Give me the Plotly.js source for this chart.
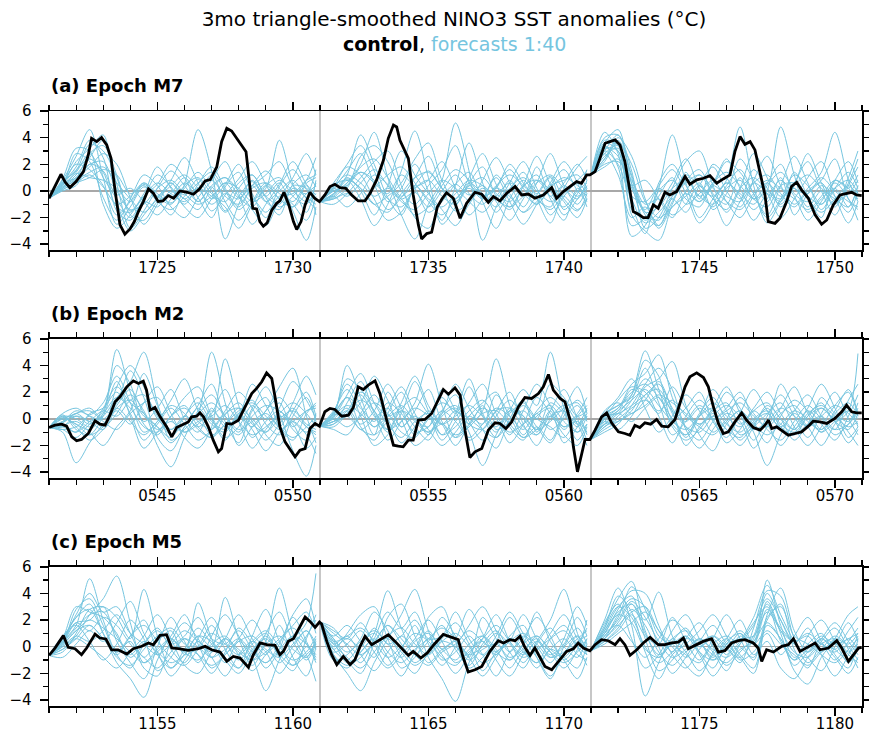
<!DOCTYPE html>
<html>
<head>
<meta charset="utf-8">
<script src="https://cdn.plot.ly/plotly-3.0.1.min.js"></script>
<style>html,body{margin:0;padding:0;background:#fff;}#chart{width:869px;height:736px;}</style>
</head>
<body>
<div id="chart"></div>
<script>
// ---------------- data ----------------
const panelLabels = ['(a) Epoch M7', '(b) Epoch M2', '(c) Epoch M5'];
const xRangeA = [1721, 1751];
const xRangeB = [541, 571];
const xRangeC = [1151, 1181];
const segStartsA = [1721, 1731, 1741];
const segStartsB = [541, 551, 561];
const segStartsC = [1151, 1161, 1171];
// forecast sample times, years after each start
const fcOffsets = [0,0.5,1,1.5,2,2.5,3,3.5,4,4.5,5,5.5,6,6.5,7,7.5,8,8.5,9,9.5,9.85];

// control run [year, anomaly]
const controlA = [[1721.0,-0.55],[1721.2,0.3],[1721.44,1.25],[1721.6,0.65],[1721.77,0.25],[1722.0,0.7],[1722.27,1.45],[1722.45,2.7],[1722.57,3.95],[1722.76,3.7],[1722.94,4.0],[1723.13,3.45],[1723.29,2.45],[1723.44,0],[1723.62,-2.55],[1723.8,-3.25],[1723.99,-2.85],[1724.15,-2.3],[1724.3,-1.55],[1724.48,-0.8],[1724.67,0.15],[1724.85,-0.17],[1725.03,-0.8],[1725.2,-0.75],[1725.4,-0.35],[1725.6,-0.55],[1725.83,0],[1726.1,-0.1],[1726.33,-0.25],[1726.55,0.15],[1726.76,0.75],[1726.95,0.85],[1727.19,1.8],[1727.37,3.7],[1727.56,4.7],[1727.74,4.5],[1727.92,3.95],[1728.1,3.45],[1728.27,2.95],[1728.42,0.2],[1728.52,-1.3],[1728.66,-1.35],[1728.78,-2.3],[1728.91,-2.65],[1729.05,-2.4],[1729.22,-1.45],[1729.4,-0.93],[1729.52,-0.75],[1729.67,-0.1],[1729.85,-1.05],[1730.02,-2.3],[1730.14,-2.9],[1730.3,-2.3],[1730.45,-1.05],[1730.63,-0.1],[1730.8,-0.55],[1730.98,-0.8],
[1731.18,-0.3],[1731.37,0.33],[1731.55,0.5],[1731.74,0.25],[1731.95,0.2],[1732.17,-0.3],[1732.41,-0.75],[1732.66,-0.75],[1732.85,-0.17],[1733.09,0.83],[1733.34,2.3],[1733.52,3.95],[1733.71,4.95],[1733.83,4.8],[1733.95,3.8],[1734.08,3.2],[1734.26,2.45],[1734.44,-0.3],[1734.63,-2.55],[1734.75,-3.6],[1734.94,-3.2],[1735.12,-3.1],[1735.33,-1.2],[1735.5,-0.6],[1735.67,-0.13],[1735.92,-0.55],[1736.17,-2.05],[1736.41,-0.93],[1736.72,-0.1],[1736.97,-0.25],[1737.21,-0.85],[1737.4,-0.43],[1737.64,-0.75],[1737.89,-0.17],[1738.2,0.33],[1738.44,-0.3],[1738.69,-0.23],[1738.93,-0.55],[1739.24,-0.3],[1739.55,0.25],[1739.73,-0.55],[1739.98,-0.05],[1740.22,0.33],[1740.47,0.7],[1740.65,0.58],[1740.84,1.2],[1740.96,1.2],
[1741.15,1.45],[1741.33,2.45],[1741.52,3.58],[1741.7,3.7],[1741.89,3.83],[1742.07,3.45],[1742.25,2.2],[1742.44,-0.05],[1742.56,-1.55],[1742.75,-1.75],[1742.93,-2.0],[1743.11,-2.0],[1743.3,-1.05],[1743.48,-1.3],[1743.73,-0.1],[1743.91,-0.3],[1744.16,-0.05],[1744.47,1.08],[1744.65,0.5],[1744.9,0.83],[1745.15,0.95],[1745.39,1.15],[1745.64,0.58],[1745.88,0.9],[1746.13,1.2],[1746.31,2.95],[1746.5,4.08],[1746.68,3.5],[1746.87,3.7],[1747.05,3.08],[1747.24,1.45],[1747.42,-0.3],[1747.54,-2.3],[1747.79,-2.43],[1747.97,-2.05],[1748.22,-0.8],[1748.4,0.33],[1748.59,0.65],[1748.77,0.08],[1749.02,-0.55],[1749.27,-1.8],[1749.51,-2.5],[1749.7,-2.18],[1749.94,-1.05],[1750.19,-0.3],[1750.43,-0.17],[1750.62,-0.1],[1750.8,-0.3],[1750.99,-0.35]];

const controlB = [[541.0,-0.65],[541.22,-0.48],[541.47,-0.4],[541.65,-0.55],[541.84,-1.35],[542.02,-1.65],[542.2,-1.55],[542.45,-1.1],[542.7,-0.15],[542.88,-0.4],[543.07,-0.48],[543.25,0.28],[543.44,1.28],[543.62,1.65],[543.87,2.4],[544.11,2.85],[544.3,2.65],[544.48,2.83],[544.6,2.15],[544.73,0.65],[544.91,0.85],[545.1,0.15],[545.34,-0.6],[545.53,-1.35],[545.71,-0.65],[545.96,-0.4],[546.14,-0.23],[546.26,0.15],[546.45,0.2],[546.57,0.45],[546.7,0.15],[546.88,-0.6],[547.06,-1.6],[547.25,-2.48],[547.37,-2.23],[547.56,-0.35],[547.74,-0.4],[547.99,-0.1],[548.23,0.9],[548.48,1.9],[548.66,2.28],[548.85,2.78],[549.03,3.45],[549.22,3.03],[549.34,1.65],[549.52,-0.6],[549.71,-1.73],[549.89,-2.23],[550.08,-2.85],[550.26,-2.35],[550.45,-2.23],[550.63,-0.73],[550.82,-0.35],[550.98,-0.55],
[551.18,0.53],[551.37,0.78],[551.55,0.7],[551.8,0.2],[552.05,0.28],[552.23,0.85],[552.41,2.4],[552.6,2.2],[552.78,2.53],[553.03,2.85],[553.21,1.9],[553.46,-0.1],[553.71,-1.98],[553.89,-2.05],[554.07,-2.1],[554.26,-1.6],[554.44,-1.6],[554.63,-0.1],[554.87,-0.05],[555.12,0.4],[555.3,1.2],[555.55,2.2],[555.74,1.85],[555.98,2.33],[556.17,1.78],[556.35,-0.85],[556.53,-2.9],[556.72,-2.48],[556.97,-2.23],[557.21,-0.85],[557.46,-0.3],[557.64,-0.35],[557.86,-0.73],[558.07,-0.23],[558.32,0.9],[558.56,1.6],[558.81,1.53],[559.06,1.9],[559.24,2.4],[559.43,3.33],[559.61,2.15],[559.86,1.53],[560.04,1.28],[560.23,-0.1],[560.35,-2.1],[560.5,-3.98],[560.66,-2.6],[560.78,-1.55],[560.96,-1.55],
[561.15,-0.85],[561.39,0.15],[561.58,0.45],[561.76,-0.3],[562.01,-0.98],[562.25,-1.1],[562.44,-1.23],[562.62,-0.48],[562.8,-0.65],[562.99,-0.3],[563.2,-0.4],[563.42,-0.05],[563.61,-0.55],[563.85,-0.6],[564.1,-0.05],[564.28,1.15],[564.47,2.4],[564.65,3.15],[564.9,3.45],[565.15,3.1],[565.33,2.4],[565.51,0.95],[565.7,-0.35],[565.88,-1.1],[566.07,-0.98],[566.31,-0.23],[566.56,0.45],[566.74,-0.1],[566.99,-0.65],[567.24,-0.85],[567.42,-0.48],[567.55,-0.1],[567.67,-0.73],[567.85,-0.6],[568.04,-0.85],[568.28,-1.23],[568.53,-1.1],[568.77,-0.98],[569.02,-0.55],[569.2,-0.18],[569.45,-0.23],[569.7,-0.35],[570.0,0.03],[570.25,0.53],[570.43,1.03],[570.62,0.53],[570.8,0.45],[570.99,0.45]];

const controlC = [[1151.0,-0.65],[1151.22,-0.1],[1151.53,0.83],[1151.71,-0.05],[1151.96,-0.15],[1152.2,-0.6],[1152.39,-0.1],[1152.7,0.95],[1152.88,0.65],[1153.1,0.58],[1153.31,-0.23],[1153.55,-0.23],[1153.87,-0.55],[1154.11,-0.15],[1154.42,0.03],[1154.67,0.28],[1154.85,0.15],[1155.1,0.85],[1155.34,0.9],[1155.53,-0.1],[1155.78,-0.15],[1156.14,-0.28],[1156.51,-0.15],[1156.76,0.03],[1157.0,-0.23],[1157.31,-0.4],[1157.56,-1.1],[1157.8,-0.73],[1158.05,-0.85],[1158.36,-1.55],[1158.54,-0.6],[1158.79,0.28],[1159.03,0.15],[1159.34,0.1],[1159.52,-0.6],[1159.65,-0.35],[1159.83,0.4],[1160.02,0.6],[1160.2,1.28],[1160.45,2.23],[1160.63,1.9],[1160.82,1.45],[1160.98,1.85],
[1161.06,1.7],[1161.25,0.4],[1161.43,-0.6],[1161.62,-1.35],[1161.86,-0.73],[1162.11,-1.35],[1162.29,-0.98],[1162.48,0.03],[1162.66,0.78],[1162.91,0.15],[1163.21,0.53],[1163.52,0.9],[1163.77,0.4],[1164.01,-0.1],[1164.26,-0.65],[1164.44,-0.35],[1164.72,-0.85],[1164.97,-0.45],[1165.2,0.15],[1165.55,0.93],[1165.8,0.75],[1166.1,0.53],[1166.29,-0.85],[1166.47,-1.9],[1166.72,-1.73],[1166.97,-1.48],[1167.27,-0.35],[1167.58,0.45],[1167.77,0.28],[1168.01,0.53],[1168.2,0.45],[1168.38,0.78],[1168.56,-0.05],[1168.75,-0.65],[1168.93,-0.1],[1169.12,-0.85],[1169.3,-1.48],[1169.55,-1.73],[1169.79,-1.1],[1170.1,-0.35],[1170.35,-0.15],[1170.53,0.28],[1170.72,-0.1],[1170.96,-0.3],
[1171.15,0.15],[1171.39,0.53],[1171.64,0.45],[1171.89,0.15],[1172.07,0.6],[1172.25,0.15],[1172.44,-0.65],[1172.69,-0.23],[1172.93,0.28],[1173.18,0.7],[1173.48,0.15],[1173.73,0.15],[1173.98,0.28],[1174.22,0.35],[1174.41,0.65],[1174.59,-0.15],[1174.84,0.1],[1175.14,0.4],[1175.45,0.6],[1175.7,-0.4],[1175.94,-0.3],[1176.19,0.28],[1176.44,0.45],[1176.68,0.53],[1176.99,0.28],[1177.17,-0.1],[1177.3,-1.1],[1177.48,-0.23],[1177.73,-0.4],[1178.04,0.03],[1178.28,0.15],[1178.47,0.6],[1178.71,-0.35],[1179.02,0.03],[1179.27,0.28],[1179.45,-0.23],[1179.76,-0.1],[1180.07,0.45],[1180.25,-0.1],[1180.5,-1.1],[1180.68,-0.6],[1180.87,-0.1],[1180.99,-0.05]];

// forecast members (values at fcOffsets after each start)
const fcA1 = [
[-0.55,0.6,1.8,3.8,2.5,-1.5,-2.2,-0.5,1.2,0.3,-1.0,0.5,1.8,0.2,-1.2,0.4,1.5,0.2,-0.8,0.6,1.0],
[-0.55,0.3,1.2,2.5,3.8,0.5,-2.8,-1.5,0.2,1.5,0.4,-0.8,0.3,-1.5,0.2,1.2,-0.5,-1.8,0.5,1.2,0.3],
[-0.55,0.8,2.6,4.6,1.0,-2.5,-1.2,0.3,-0.6,-1.8,0.5,4.6,1.5,-3.6,-1.0,0.8,-0.4,0.6,-1.5,-3.7,-1.2],
[-0.55,0.2,0.9,1.8,2.8,2.0,-0.5,-2.5,-1.0,0.6,-0.3,0.9,-0.6,0.5,2.0,-0.2,-2.0,0.3,1.6,0.1,-0.6],
[-0.55,0.5,2.2,3.2,4.2,-0.8,-3.0,-1.8,-0.5,0.8,2.5,0.6,-1.5,-0.3,0.9,2.2,0.5,-1.2,-0.4,0.8,2.5],
[-0.55,0.1,0.6,1.2,0.3,-1.0,-0.4,0.6,-0.2,-0.9,0.2,1.4,0.0,-1.6,-0.4,0.7,-0.8,-1.4,0.2,-0.5,-1.0],
[-0.55,0.7,1.5,3.5,3.0,1.0,-1.8,-2.2,-0.8,-0.2,1.0,-0.5,-2.0,0.3,1.4,-0.6,0.2,3.8,0.5,-1.6,0.8],
[-0.55,0.4,2.8,2.2,-0.5,-2.2,-0.6,1.2,0.4,-1.2,-2.0,-0.5,0.8,2.2,-0.2,-2.5,-1.0,0.5,2.2,0.5,-0.3],
[-0.55,0.0,0.4,2.0,1.5,-0.3,0.2,-0.8,-1.8,-0.6,0.6,0.0,1.2,-0.8,-2.2,-0.8,0.6,-0.2,-1.0,-2.2,-0.4],
[-0.55,0.6,1.0,2.8,3.4,1.2,-1.5,-0.2,1.8,0.2,-1.2,-2.0,-0.6,0.6,-0.5,0.4,1.2,2.2,0.4,-0.2,1.6],
[-0.55,0.9,3.2,3.0,-1.0,-2.8,-1.8,-0.4,0.5,2.0,1.0,-0.8,0.4,1.0,0.0,-1.4,-2.6,-0.6,1.0,2.8,1.2],
[-0.55,0.2,1.3,1.0,0.8,0.2,-0.8,0.5,-0.4,0.6,-0.6,0.2,-0.4,-1.2,-2.8,-1.0,0.4,-0.6,-1.2,0.4,-1.8],
[-0.55,0.5,1.6,2.4,1.4,-1.2,-1.6,-0.4,0.6,-0.2,-0.8,0.2,0.8,-0.4,-1.0,0.2,0.6,-0.6,-1.2,-0.2,0.4],
[-0.55,0.3,1.0,2.0,2.2,0.0,-1.4,-1.0,0.2,0.8,-0.2,-1.0,-0.4,0.6,0.2,-0.8,-0.2,0.8,0.0,-0.8,-0.2],
[-0.55,0.6,2.0,1.6,0.4,-1.8,-0.8,0.6,-0.4,-1.0,0.4,1.0,-0.2,-0.8,0.6,1.2,-0.4,-1.0,0.4,0.2,-0.6],
[-0.55,0.2,0.8,1.4,1.8,0.6,-0.6,-1.6,-0.6,0.4,1.2,0.2,-1.0,-0.2,-0.6,0.4,-0.8,0.0,0.8,-0.6,-1.4],
[-0.55,0.4,1.4,2.8,1.0,-0.6,-2.0,-0.8,-1.2,0.0,-0.6,-1.4,0.2,1.0,-0.4,-1.2,0.4,1.0,-0.4,-1.0,0.6],
[-0.55,0.1,0.6,1.0,1.6,1.2,-0.2,0.4,-0.8,-1.4,-0.4,0.6,1.4,0.0,-1.4,-0.6,-1.6,-0.4,-0.2,0.8,1.2]];
const fcA2 = [
[-0.8,-0.2,1.2,4.2,2.0,-0.5,-1.8,0.4,1.5,0.2,-0.6,1.0,2.8,0.5,-1.2,0.3,1.2,-0.4,0.6,2.0,0.8],
[-0.8,0.4,0.8,-0.6,-2.6,-1.0,1.5,4.5,1.0,-2.5,-1.2,0.4,-0.5,1.2,-0.2,-1.6,-0.3,1.1,-0.6,-1.5,-0.2],
[-0.8,-0.5,0.6,2.0,4.4,1.0,-1.8,-3.6,-1.0,0.8,5.1,1.5,-3.7,-1.2,0.6,2.2,0.2,-1.8,-0.4,0.8,1.5],
[-0.8,0.2,1.5,2.8,0.5,-1.4,-0.5,1.0,2.6,0.2,-1.5,-0.8,0.8,2.5,0.6,-1.2,0.6,2.8,0.4,-1.0,0.2],
[-0.8,-1.0,-0.2,1.0,2.2,3.0,0.4,-2.0,-2.8,-0.5,0.5,-0.3,0.4,-0.8,-2.2,-0.6,0.8,0.0,-1.8,-0.6,0.4],
[-0.8,0.6,2.0,3.4,1.5,-0.8,0.2,2.0,0.0,-2.2,0.4,3.6,0.6,-1.6,0.0,1.4,-0.6,-2.4,0.2,1.8,2.6],
[-0.8,-0.4,-1.2,-0.2,1.2,0.5,-0.6,-0.1,-1.2,0.0,1.2,-0.2,-1.0,0.3,1.6,0.2,-1.0,0.4,1.6,0.0,-0.8],
[-0.8,0.1,0.9,0.2,-1.0,-0.4,0.6,2.4,3.6,0.8,-0.8,0.6,1.8,-0.4,-1.4,0.4,2.6,0.5,-0.8,-2.0,-0.6],
[-0.8,0.3,1.8,1.2,-0.6,-2.2,-1.6,0.2,0.8,2.2,0.2,-1.8,-0.6,1.0,-0.8,-2.5,-1.0,0.6,2.2,0.6,-1.2],
[-0.8,-0.6,0.2,2.6,3.4,2.2,0.0,-1.0,0.4,1.6,3.4,0.6,-0.4,0.2,2.0,0.6,-0.6,-1.2,0.4,-0.4,0.3],
[-0.8,0.0,0.4,1.4,0.6,-0.2,1.2,0.2,-1.6,-0.8,0.5,1.4,-0.8,-2.8,-0.6,0.8,-0.2,1.0,-1.4,-0.2,1.6],
[-0.8,-0.3,1.0,0.0,-1.8,0.4,3.0,1.2,-0.2,-1.4,-2.6,-1.0,0.2,-0.6,0.8,-0.4,1.8,-0.6,-2.2,0.2,-0.6],
[-0.8,-0.2,0.6,1.4,0.8,-0.6,-1.2,0.2,0.8,-0.4,-1.0,0.4,1.0,-0.2,-0.8,0.4,0.8,-0.4,-1.2,0.0,0.6],
[-0.8,0.2,-0.4,0.6,1.6,0.4,-0.8,-1.4,-0.2,0.8,0.2,-0.8,-1.6,-0.4,0.6,-0.2,-1.0,0.2,1.0,0.4,-0.4],
[-0.8,-0.4,0.8,0.2,-1.0,-1.6,-0.2,1.0,1.4,0.2,-0.6,0.6,-0.2,-1.2,0.2,1.0,0.0,-0.8,-0.4,-1.4,-0.6],
[-0.8,0.0,0.4,1.8,2.4,1.0,-0.4,0.4,-0.6,-1.2,-0.2,0.8,0.4,-0.6,-1.2,-0.4,0.6,1.2,0.2,-0.6,0.8],
[-0.8,-0.6,-0.2,-0.8,0.2,1.2,1.8,0.6,-0.8,-1.8,-0.6,0.2,-0.6,0.4,1.2,0.4,-0.6,-1.4,-0.2,0.6,-0.2],
[-0.8,0.3,1.2,0.6,-0.4,0.2,-0.6,-1.8,-1.2,0.4,1.6,0.8,-0.4,0.2,-0.4,-1.6,-0.8,0.4,0.8,1.2,0.2]];
const fcA3 = [
[1.2,3.6,4.6,0.5,-2.2,-1.0,0.6,2.4,0.2,-1.2,0.4,1.6,-0.2,-2.0,-0.6,1.2,0.4,-1.0,0.8,2.2,0.6],
[1.2,2.6,3.2,-1.8,-3.0,-3.7,-1.0,1.0,-0.4,0.6,2.4,0.2,-1.4,0.0,4.8,1.2,-1.6,-0.6,0.2,-1.2,0.4],
[1.2,4.4,2.8,-3.4,-2.6,0.2,4.2,0.6,-2.0,-0.6,0.8,4.8,0.4,-2.4,-0.8,0.6,2.2,0.0,-1.8,0.4,1.8],
[1.2,2.2,3.8,1.2,-1.6,-2.2,-0.6,-1.6,0.4,1.8,0.0,-1.2,0.8,2.6,0.4,-1.0,0.2,1.4,4.4,0.8,-0.8],
[1.2,3.0,2.0,-0.4,-0.8,0.4,1.6,-0.2,-2.4,-1.0,0.6,-0.4,-2.2,-0.6,0.8,-0.4,-2.2,-0.8,0.6,-0.6,-2.2],
[1.2,4.0,4.2,1.5,-2.8,-2.0,0.2,2.2,3.0,0.4,-1.6,0.2,2.8,1.0,-1.2,0.4,2.8,0.6,-1.2,1.0,3.0],
[1.2,1.8,2.4,0.4,0.8,-0.6,-2.0,0.0,1.2,-0.2,-1.0,1.0,-0.6,0.6,2.0,-0.2,-0.8,0.4,-0.4,-1.6,0.0],
[1.2,3.2,3.0,-1.0,-3.2,0.6,2.0,0.4,-0.8,0.4,2.2,1.4,-0.2,-1.8,0.4,2.6,0.6,-1.4,0.2,1.4,0.2],
[1.2,2.8,1.2,-2.0,-1.2,-2.6,-0.8,0.8,1.6,-0.4,-2.6,-0.8,0.6,-0.2,-2.0,-0.6,1.0,2.2,-0.4,-2.4,-0.8],
[1.2,3.8,3.4,0.2,-1.4,0.2,-0.6,1.4,-0.6,2.0,1.0,-0.6,1.6,0.2,-0.8,1.4,-0.4,-2.0,0.8,0.2,1.2],
[1.2,2.4,4.0,2.6,-0.6,-2.8,-1.2,-0.4,0.6,-1.4,-0.2,2.4,0.8,-0.8,1.0,-1.8,-0.2,0.8,2.4,-0.6,-1.4],
[1.2,3.4,1.8,-2.6,-2.0,-0.4,1.0,-1.0,-0.2,0.8,-0.8,-2.0,-0.4,0.6,-0.4,0.2,-1.2,0.0,-1.0,0.6,2.4],
[1.2,2.8,3.4,0.6,-1.6,-1.2,0.2,0.8,-0.4,-1.0,0.2,0.8,-0.6,-1.2,0.4,0.6,-0.4,-1.0,0.2,0.8,-0.2],
[1.2,3.2,2.6,-0.6,-2.4,-1.6,-0.4,0.6,1.2,0.2,-0.8,-1.4,-0.2,0.8,0.2,-0.6,-1.4,-0.4,0.8,0.2,-0.6],
[1.2,2.4,3.6,2.0,-0.8,-2.0,-1.2,-0.2,-0.8,0.6,1.4,0.4,-0.6,-0.2,-1.0,0.4,1.2,0.2,-0.6,-1.2,0.4],
[1.2,3.6,3.0,-1.4,-2.0,0.0,0.8,-0.6,-1.2,0.4,-0.4,-0.8,0.6,1.2,-0.2,-1.2,0.0,0.6,-0.8,-0.2,0.8],
[1.2,2.0,2.2,0.8,-1.0,-0.6,-1.8,-1.0,0.4,-0.6,-1.4,0.2,1.0,0.0,-0.6,0.6,-0.6,-1.6,-0.6,0.4,-0.4],
[1.2,3.0,4.2,1.0,-1.8,-2.6,-0.4,1.2,0.4,-0.4,0.6,-0.2,-1.0,0.4,1.4,0.2,-0.2,1.0,0.0,-0.8,-1.2]];

const fcB1 = [
[-0.65,-0.3,0.4,-0.2,0.6,5.2,2.0,-0.4,-1.2,0.2,1.0,-0.6,-1.4,0.3,1.2,-0.2,-1.6,-0.4,0.8,-0.6,-1.0],
[-0.65,-0.8,-1.4,-0.4,0.2,1.6,2.8,5.0,1.2,-1.6,-0.8,0.4,5.0,1.2,-2.0,-0.6,0.6,2.4,3.8,0.2,-1.8],
[-0.65,0.2,-0.6,-1.6,-0.8,0.4,1.8,0.6,-2.0,-3.6,-1.4,0.6,1.8,0.2,-1.0,0.8,2.4,0.4,-2.4,-4.3,-2.0],
[-0.65,-0.2,0.6,0.2,-0.6,2.4,4.0,2.4,0.0,-0.8,0.2,1.6,0.0,-1.6,0.4,1.4,-0.4,-1.2,0.6,2.0,0.2],
[-0.65,-1.0,-3.3,-1.8,-0.4,0.6,-0.4,1.2,2.4,0.4,-1.4,-2.2,-0.6,4.5,1.0,-1.4,-0.2,0.6,-0.8,-1.6,0.4],
[-0.65,0.4,0.8,0.3,1.2,3.2,1.2,-1.0,-0.2,1.4,3.0,0.6,-1.2,-0.4,0.8,0.0,-1.0,0.8,2.8,1.4,0.0],
[-0.65,-0.5,-0.2,-1.0,-2.0,-0.6,0.6,3.4,1.0,-0.8,0.2,-0.6,0.4,2.2,-0.2,-2.2,-0.8,0.2,-0.4,-2.2,-1.4],
[-0.65,0.0,0.4,0.8,0.0,1.2,3.6,1.6,-1.4,-2.4,-0.6,1.0,2.6,-0.2,-1.8,0.6,1.6,-0.6,-1.6,0.4,1.2],
[-0.65,-0.4,-1.0,0.4,0.8,2.0,0.4,-1.6,-0.4,0.8,-0.4,-1.6,-0.8,0.6,2.0,0.8,-1.2,-2.0,0.2,1.6,-0.2],
[-0.65,0.1,-0.4,-0.8,0.4,4.0,2.6,-0.2,0.8,2.2,0.0,-1.0,0.8,-0.6,0.2,2.6,1.0,-0.6,1.2,3.2,1.8],
[-0.65,-0.6,0.2,-0.2,-0.8,0.8,1.4,0.2,-0.6,-1.8,-0.6,0.8,-0.4,-1.0,0.4,-0.8,-2.4,-1.0,-0.2,-1.2,-2.6],
[-0.65,0.3,-0.8,-1.2,0.2,2.8,0.2,-2.2,-1.0,0.2,1.6,2.4,0.2,-1.4,-0.6,1.0,0.0,1.2,-0.6,0.6,0.8],
[-0.65,-0.2,0.2,-0.4,0.4,1.6,0.8,-0.6,-1.0,0.2,0.8,-0.2,-0.8,0.4,0.8,-0.4,-1.0,0.0,0.6,-0.4,-0.8],
[-0.65,-0.6,-1.0,-0.2,0.6,0.2,1.4,1.8,0.2,-1.2,-0.4,0.4,1.2,0.2,-0.8,-0.2,0.4,-0.6,-1.4,-0.6,0.2],
[-0.65,0.0,-0.4,-1.2,-0.6,1.0,2.2,0.4,-0.8,-0.2,-1.0,-0.4,0.6,-0.4,-1.2,0.2,1.0,0.6,-0.2,-1.0,-0.2],
[-0.65,-0.3,0.4,0.6,-0.2,-0.8,0.4,1.2,1.6,0.0,-1.0,-0.2,0.2,1.0,-0.2,-1.2,-0.6,0.4,1.2,0.4,-0.6],
[-0.65,-0.8,-0.6,0.2,-0.4,0.8,-0.2,-1.2,-0.2,1.0,0.4,-0.8,-1.4,-0.4,0.6,1.2,0.2,-0.8,-0.2,0.6,1.0],
[-0.65,0.2,0.0,-0.6,0.8,2.4,1.2,0.4,-0.6,-1.4,0.2,1.2,-0.2,-0.8,0.2,-0.6,0.6,1.6,0.4,-0.6,-1.2]];
const fcB2 = [
[-0.55,0.2,4.0,1.6,-0.6,0.8,2.4,0.4,-1.2,0.6,1.8,-0.2,-1.6,0.2,1.4,0.2,-0.8,1.2,0.4,-1.0,0.2],
[-0.55,-0.4,1.2,2.8,0.4,-1.6,-0.2,1.2,4.1,1.0,-1.4,-0.6,0.6,4.5,1.0,-1.2,0.2,0.8,-0.6,0.4,1.6],
[-0.55,0.6,2.2,0.2,-2.0,-1.2,0.6,-0.6,-1.6,0.2,0.8,-1.0,-3.5,-1.2,0.6,2.2,1.0,5.0,0.8,-1.6,-0.4],
[-0.55,0.0,0.8,-0.4,0.6,2.6,0.8,-1.2,0.0,1.6,0.4,2.4,0.2,-1.4,-0.2,0.6,-0.6,-1.8,0.2,1.4,0.6],
[-0.55,-0.8,-1.2,0.4,1.8,0.0,-1.8,-0.6,0.6,-0.4,-2.0,-0.4,0.8,0.0,-1.8,-0.4,1.6,0.4,-1.2,-2.0,-0.6],
[-0.55,0.4,3.0,2.2,0.6,-1.0,0.4,2.8,0.6,-1.6,-0.2,1.2,2.6,0.4,-1.2,0.6,2.6,1.0,-0.8,0.2,-1.2],
[-0.55,-0.2,0.2,1.2,3.2,1.4,-0.6,0.2,-0.8,-2.0,-1.0,0.2,-0.4,1.8,0.2,-1.4,-0.6,-1.6,0.6,2.4,0.4],
[-0.55,0.3,1.6,-0.6,-1.6,0.4,2.0,0.0,-0.6,2.2,0.6,-1.6,-0.8,0.6,2.0,-0.4,-2.0,0.0,1.0,-0.4,-2.0],
[-0.55,-0.6,0.4,1.8,0.2,-0.8,1.2,3.2,1.0,-0.4,0.6,-0.4,1.0,-0.8,-0.2,1.0,0.0,2.6,1.6,0.2,0.6],
[-0.55,0.5,2.6,1.0,-1.2,2.0,0.0,-2.0,-1.2,0.4,2.6,0.8,-0.8,-2.2,0.0,1.4,-1.0,0.6,-1.8,-0.6,0.8],
[-0.55,-0.2,0.6,-0.8,0.0,0.8,-0.6,0.6,2.2,-0.2,-1.4,0.2,1.2,2.0,-0.6,-1.6,0.4,-0.8,0.0,1.0,-0.2],
[-0.55,0.1,1.8,3.4,1.2,-0.4,-1.4,-0.2,0.4,-1.2,0.4,3.0,0.4,-1.0,0.8,0.0,-1.2,0.6,2.2,0.0,-1.6],
[-0.55,0.2,1.0,0.4,-0.6,0.2,1.0,-0.2,-1.0,0.4,1.0,-0.4,-0.8,0.6,0.8,-0.6,-1.2,0.2,0.6,-0.4,0.2],
[-0.55,-0.4,0.4,1.4,0.6,-0.8,-0.2,0.8,0.2,-1.2,-0.6,0.6,1.4,0.0,-1.0,-0.4,0.4,1.0,-0.2,-1.0,-0.4],
[-0.55,0.4,1.6,0.8,-0.2,1.2,0.4,-1.0,-0.6,0.6,-0.2,-1.4,-0.4,0.8,0.2,-0.8,0.6,1.6,0.6,-0.6,0.4],
[-0.55,0.0,-0.6,0.2,1.2,0.4,-1.0,-1.4,0.2,1.2,0.6,0.0,-0.8,-1.4,0.4,1.2,0.0,-0.6,-1.4,0.2,1.0],
[-0.55,-0.2,0.6,2.0,1.2,0.2,0.8,1.6,0.4,-0.4,0.2,1.0,0.2,-0.6,0.6,0.2,-0.8,-0.2,0.8,1.2,0.0],
[-0.55,0.3,0.2,-0.8,-1.2,-0.2,0.6,0.0,-1.0,-0.4,-1.2,-0.6,0.4,0.6,-0.4,-1.4,-0.8,0.2,-0.6,-0.2,-1.0]];
const fcB3 = [
[-1.55,-0.4,0.4,1.8,5.1,2.2,-0.4,-1.2,0.4,1.6,-0.2,-1.6,-0.4,0.8,-0.6,-1.2,0.2,1.2,-0.2,0.6,4.9],
[-1.55,0.2,0.8,2.6,3.4,4.8,1.6,-0.6,-1.6,-0.2,0.8,2.0,-0.2,-1.8,0.2,1.4,0.6,-0.8,0.6,2.2,0.4],
[-1.55,-0.8,-0.2,0.6,2.4,3.0,4.3,1.0,-1.2,-2.4,-0.4,0.6,-1.0,-3.5,-1.2,0.4,-0.6,-2.0,-0.4,0.8,-0.6],
[-1.55,0.6,1.2,0.4,1.4,2.8,0.6,-2.0,-0.6,0.8,2.4,0.4,-1.6,0.2,1.8,0.2,-1.4,0.4,2.0,0.0,-1.2],
[-1.55,-0.6,0.2,1.4,3.8,1.2,-1.2,-0.2,1.0,0.0,-1.8,-0.8,0.6,-0.4,-2.0,-0.6,0.8,2.6,0.8,-1.4,-0.6],
[-1.55,0.0,0.6,2.2,1.6,0.4,2.4,0.8,-0.4,0.6,1.2,-0.4,0.8,2.0,0.4,-0.8,0.6,-0.4,-1.6,0.2,1.8],
[-1.55,-1.0,-0.4,1.0,2.6,3.8,2.2,-0.8,-2.2,-0.8,0.4,-0.2,-2.2,-0.6,0.8,2.4,0.4,-1.0,0.2,-1.0,-2.0],
[-1.55,0.4,1.6,3.0,0.8,-1.0,0.2,1.8,0.6,-1.0,0.0,1.6,0.4,-0.8,-1.6,-0.2,1.0,0.0,-0.8,1.4,2.6],
[-1.55,-0.2,-0.8,0.2,1.8,2.2,0.4,-1.4,0.2,2.2,0.6,-1.2,-0.6,0.4,1.2,-0.6,-2.0,-0.6,1.0,2.0,0.2],
[-1.55,0.3,1.0,1.8,4.4,3.2,0.0,0.8,2.0,-0.2,-1.4,0.4,2.2,0.6,-0.6,0.6,1.8,0.2,-1.2,-0.4,0.8],
[-1.55,-0.4,0.4,-0.2,0.8,1.6,-0.6,-1.6,-0.8,0.4,-0.8,-2.0,-0.6,1.0,0.0,-1.6,-0.4,0.8,-0.2,-1.8,-0.8],
[-1.55,0.1,1.4,2.4,2.0,0.2,-1.8,0.2,1.4,0.6,2.0,0.8,-0.8,-0.2,2.6,0.8,-0.6,1.6,0.4,-0.2,1.2],
[-1.55,-0.2,0.6,1.4,2.2,1.0,-0.2,-0.8,0.2,0.8,-0.4,-1.0,0.0,0.6,-0.4,-1.0,0.2,0.8,-0.2,-0.8,0.4],
[-1.55,0.2,0.4,1.0,1.8,2.6,0.8,-0.6,-1.0,0.2,1.0,0.2,-0.8,-0.2,0.8,0.2,-0.6,0.2,1.0,0.4,-0.4],
[-1.55,-0.6,0.0,0.8,1.4,0.6,1.4,0.2,-0.6,-1.2,-0.2,0.6,-0.4,-1.2,-0.4,0.6,0.0,-1.0,-0.2,0.6,0.0],
[-1.55,0.0,0.8,2.0,2.6,1.6,0.0,-1.2,0.2,1.2,0.2,-0.6,0.6,1.2,0.0,-0.8,0.4,1.0,0.2,-0.6,-0.2],
[-1.55,-0.4,-0.2,0.4,1.0,1.8,1.2,0.4,-0.4,0.2,-0.8,-1.4,-0.2,0.4,-0.8,-1.2,-0.4,0.2,-0.8,-0.4,0.6],
[-1.55,0.4,1.0,1.6,3.0,2.0,0.6,-0.2,0.8,0.0,0.6,1.2,0.2,-0.6,0.4,1.0,-0.2,-0.8,0.4,1.2,0.2]];

const fcC1 = [
[-0.65,0.4,1.6,5.1,2.0,-0.6,-1.6,0.2,1.4,-0.2,-1.2,0.6,2.2,0.4,-1.0,0.2,1.0,-0.4,0.6,1.8,5.5],
[-0.65,0.0,0.8,2.4,3.6,5.3,1.8,-1.2,-0.4,0.8,2.4,0.2,-1.6,-0.6,0.6,2.0,0.4,-1.2,0.0,1.2,0.2],
[-0.65,0.6,2.2,3.2,1.0,-1.2,-2.4,-3.8,-1.0,0.6,-0.4,3.3,0.6,-1.2,0.4,-0.8,-3.3,-1.0,0.8,-0.6,-2.6],
[-0.65,-0.4,1.0,2.8,3.0,2.2,0.6,4.3,0.8,-1.6,-0.6,0.8,0.0,3.7,0.6,-1.4,0.4,4.4,1.0,-0.8,0.6],
[-0.65,0.8,1.6,0.4,-1.0,0.2,2.0,0.6,-1.8,-0.8,0.6,-0.6,-2.0,-0.4,1.4,0.2,-1.6,-0.2,2.2,0.4,-1.2],
[-0.65,0.2,2.8,3.6,1.6,-0.4,0.4,-1.6,-2.2,0.4,1.8,0.6,-0.8,0.6,2.4,0.6,-0.6,1.6,-0.8,-2.2,0.0],
[-0.65,-0.8,0.2,1.2,0.4,1.8,3.4,1.0,-0.6,-1.6,-0.2,1.4,0.2,-1.0,-2.0,-0.4,0.8,-0.8,-1.8,0.6,2.4],
[-0.65,0.3,1.8,2.0,3.0,0.4,-1.2,-2.4,0.0,2.2,0.4,-1.2,0.8,2.4,0.8,-0.8,1.0,2.6,0.4,-1.0,0.2],
[-0.65,-0.2,0.6,0.0,-0.8,-1.6,-0.4,0.8,2.4,0.6,-1.4,-2.0,-0.4,0.6,-0.6,-1.8,-0.6,0.4,1.6,2.6,1.0],
[-0.65,0.5,2.4,4.0,2.6,3.0,1.0,-0.8,0.4,1.2,-0.6,0.0,1.6,-0.2,-1.6,0.8,2.8,0.4,-1.4,0.0,-0.8],
[-0.65,0.1,1.2,1.6,0.6,-0.6,0.8,2.0,-0.4,-2.2,-1.0,0.4,-0.8,-2.2,-0.6,0.4,-0.4,-2.0,-0.6,0.8,2.0],
[-0.65,0.6,3.0,2.6,2.2,1.0,-0.8,0.2,1.2,0.2,0.8,2.2,0.6,0.2,1.2,-0.2,-1.2,0.2,2.4,3.6,1.4],
[-0.65,0.2,1.2,2.0,1.4,0.6,-0.4,-1.2,-0.2,0.6,-0.4,-1.0,0.2,0.8,-0.4,-1.0,0.2,0.8,-0.2,-0.8,0.4],
[-0.65,0.4,1.8,1.2,2.2,1.6,0.2,-0.8,-1.6,-0.4,0.6,0.0,-0.8,-0.2,0.6,-0.4,-1.2,-0.2,0.8,0.2,-0.6],
[-0.65,-0.2,0.6,1.6,0.6,-0.4,0.8,1.6,0.4,-0.8,-1.4,-0.2,1.0,0.2,-0.6,0.4,1.2,0.0,-1.0,-0.4,0.8],
[-0.65,0.6,2.2,2.8,1.0,-0.8,-1.4,-0.2,0.8,1.4,0.2,-0.6,-1.4,-0.6,0.4,0.8,-0.2,-0.8,0.2,1.2,-0.2],
[-0.65,0.0,0.8,0.4,1.2,2.4,1.0,0.2,-0.6,0.2,1.2,0.4,-0.4,0.6,-0.2,-1.0,-0.4,0.6,1.4,0.2,-1.0],
[-0.65,0.3,1.4,2.4,2.6,0.8,-0.6,0.4,-0.4,-1.2,-0.6,0.8,0.4,-0.8,-1.6,-0.2,0.6,-0.6,-1.4,-0.6,0.2]];
const fcC2 = [
[1.85,0.4,-1.2,-0.4,1.0,4.2,1.4,-0.6,0.4,1.6,-0.2,-1.4,0.2,1.2,-0.4,-1.6,0.2,1.4,0.0,-0.8,0.6],
[1.85,-0.6,-2.0,-3.3,-1.2,0.6,2.4,4.3,1.2,-1.0,-0.4,0.8,-0.6,-2.2,-0.4,0.6,2.2,0.8,-1.0,0.2,1.4],
[1.85,1.2,0.6,1.8,0.2,-1.4,-0.2,1.6,-0.8,-2.4,-4.1,-1.2,0.6,2.4,0.4,-1.2,0.4,2.0,4.3,1.0,-0.6],
[1.85,0.2,0.8,-0.6,-1.8,-0.4,0.8,0.0,2.2,3.0,0.4,-1.6,-0.8,0.4,2.2,0.6,-0.8,-2.2,-0.6,0.8,-0.4],
[1.85,-1.0,-0.6,0.6,2.6,1.2,-0.8,-2.0,-0.4,0.6,1.8,0.2,-1.8,-0.4,0.4,2.4,0.6,-0.6,0.2,2.2,0.8],
[1.85,0.8,1.6,0.4,-0.8,2.2,3.2,0.8,-1.2,-0.2,0.6,2.8,1.0,-1.0,-2.2,-0.6,0.8,-0.4,-1.6,-0.2,2.0],
[1.85,-0.4,0.2,1.2,-0.4,-1.6,-0.6,0.6,2.0,0.4,-1.2,-0.4,0.4,-0.6,0.8,1.6,-0.8,-2.4,0.0,1.4,0.2],
[1.85,0.6,-1.0,-2.0,0.2,1.6,0.2,-1.2,-0.2,2.2,0.8,-0.8,2.2,0.6,-1.0,0.2,2.6,0.4,-1.0,-2.4,-0.8],
[1.85,-0.2,1.0,2.4,3.0,0.6,-1.6,-0.8,0.6,-0.6,-2.0,-0.6,0.8,-0.2,-1.6,-0.4,-1.2,0.6,1.6,0.0,-1.4],
[1.85,1.4,0.0,-1.2,0.6,2.6,1.4,2.6,0.2,-1.4,0.0,1.6,3.0,1.2,-0.4,0.8,0.0,-1.2,0.6,3.0,1.6],
[1.85,-0.8,-1.6,-0.4,0.6,-0.8,-2.2,-0.4,1.2,-0.2,0.4,-0.8,-2.2,-0.8,0.6,-0.2,-1.6,-0.2,-0.8,-1.6,0.2],
[1.85,0.0,0.6,0.0,1.4,0.2,0.8,2.0,0.6,0.8,2.6,0.6,-0.6,0.8,2.6,1.0,-0.2,1.0,2.4,0.6,-0.2],
[1.85,0.6,-0.4,0.4,1.2,0.2,-0.8,0.4,1.0,-0.2,-1.0,0.2,0.8,-0.4,-1.0,0.2,0.8,-0.2,-0.8,0.4,0.8],
[1.85,0.2,-0.8,-1.6,-0.4,0.8,1.4,0.2,-0.6,0.4,1.0,0.0,-1.2,-0.6,0.4,1.0,0.2,-0.8,0.0,0.8,-0.2],
[1.85,1.0,0.2,-0.6,0.4,1.6,0.6,-0.6,-1.4,-0.4,0.2,1.2,0.4,-0.4,0.6,-0.4,-1.2,-0.2,0.6,-0.6,-1.0],
[1.85,-0.2,-1.0,0.2,1.0,-0.4,-1.2,-0.2,0.6,1.4,0.6,-0.6,0.0,1.0,0.2,-0.8,-0.2,0.6,1.2,0.0,-0.6],
[1.85,0.4,0.8,1.4,0.4,-0.8,0.0,1.0,0.4,-0.8,-1.4,-0.2,0.6,1.6,0.4,-0.6,0.4,-0.4,-1.2,-0.4,0.6],
[1.85,-0.6,-1.4,-0.8,0.2,0.6,-0.4,-1.4,-0.6,0.4,0.0,-1.0,-0.2,0.2,-0.8,-0.2,0.6,-0.8,-0.4,0.6,1.2]];
const fcC3 = [
[-0.3,1.6,3.6,4.9,1.2,-0.8,0.4,1.4,-0.4,-1.6,0.2,1.2,0.4,5.0,1.6,-0.8,0.2,1.0,-0.6,-1.6,0.6],
[-0.3,1.0,2.8,4.2,4.0,1.6,-0.6,-1.6,-0.2,0.8,0.0,-1.2,1.4,4.2,3.8,0.6,-1.2,-0.2,0.8,0.0,-1.0],
[-0.3,2.0,4.4,1.6,-3.7,-1.2,0.6,-0.4,-1.8,-0.6,0.6,2.0,0.2,3.4,1.0,-1.8,-2.8,-0.8,0.6,2.4,3.0],
[-0.3,0.6,1.8,3.2,2.0,4.1,0.8,-0.8,0.4,1.6,0.2,-0.8,-2.0,2.4,4.4,1.2,-0.4,0.6,1.8,0.4,-0.6],
[-0.3,1.2,3.0,3.8,0.6,-1.8,-1.0,0.6,1.8,0.0,-1.4,-0.4,0.8,4.0,2.0,0.2,1.4,-0.6,-2.2,-0.6,0.8],
[-0.3,0.4,1.2,2.4,0.8,0.2,2.2,0.4,-1.0,0.6,2.4,0.6,-1.0,1.6,0.6,-1.4,-0.4,0.6,-0.2,1.2,2.2],
[-0.3,0.8,2.2,4.5,2.8,0.0,-2.0,-0.8,0.6,-0.4,-1.8,0.2,1.8,3.0,0.4,-1.0,0.8,2.0,0.4,-1.2,-0.2],
[-0.3,1.8,3.2,0.6,-1.6,-0.6,1.2,2.4,0.6,-1.0,-0.2,1.0,-0.6,0.4,-1.6,-2.4,-0.8,0.4,1.4,-0.2,-1.6],
[-0.3,0.2,1.0,1.8,2.6,1.2,-0.4,0.8,-0.6,-2.2,-0.8,0.4,2.2,4.6,2.4,0.4,-0.8,-1.8,0.0,1.8,0.4],
[-0.3,1.4,3.8,2.6,-0.4,-2.4,-0.6,0.2,1.2,2.4,0.8,-1.0,-0.4,1.0,-0.6,0.8,2.2,0.4,-1.0,0.4,1.4],
[-0.3,0.6,2.4,3.6,3.0,0.8,0.0,-1.4,-2.2,-0.4,0.6,-0.6,-1.6,2.0,3.2,-0.2,-1.6,0.2,-0.8,-2.0,-0.8],
[-0.3,1.0,1.6,0.4,-0.8,0.6,2.0,1.2,0.0,0.6,-0.6,0.8,0.2,2.8,1.4,0.4,0.8,-0.4,0.6,0.2,1.0],
[-0.3,1.2,2.6,3.2,1.0,-0.6,0.2,0.8,-0.4,-1.0,0.2,0.6,0.8,2.6,1.2,-0.4,-0.8,0.2,0.6,-0.4,0.2],
[-0.3,0.8,2.0,3.4,2.2,0.4,-0.8,-0.2,0.6,-0.2,-0.8,0.2,1.6,3.6,2.0,0.2,-0.4,0.6,-0.2,-1.0,-0.2],
[-0.3,1.4,3.0,2.2,0.0,-1.2,-0.4,0.6,0.2,-0.6,-1.2,-0.2,0.4,1.8,0.6,-1.0,-0.2,0.8,0.2,0.6,1.0],
[-0.3,0.6,1.6,2.6,3.0,1.2,0.2,-0.6,-1.2,0.2,0.8,0.0,-0.8,2.2,3.0,0.8,0.2,-0.6,-1.2,-0.2,0.6],
[-0.3,1.0,2.4,1.8,-0.2,-0.8,0.6,1.2,0.4,0.8,-0.2,-0.8,0.6,3.2,1.2,0.4,1.0,0.2,-0.4,0.6,-0.2],
[-0.3,0.4,1.4,2.8,1.6,-0.4,-1.4,-0.4,0.2,-0.8,0.4,1.0,0.2,1.2,0.2,-0.6,-1.4,-0.4,0.4,-0.6,-1.2]];

// ---------------- build ----------------
const FC_COLOR = '#76c5df';
const panels = [
  {xa:'x',  ya:'y',  xr:xRangeA, starts:segStartsA, control:controlA, fc:[fcA1,fcA2,fcA3], fmt:'d'},
  {xa:'x2', ya:'y2', xr:xRangeB, starts:segStartsB, control:controlB, fc:[fcB1,fcB2,fcB3], fmt:'04d'},
  {xa:'x3', ya:'y3', xr:xRangeC, starts:segStartsC, control:controlC, fc:[fcC1,fcC2,fcC3], fmt:'d'}
];

const traces = [];
const shapes = [];
panels.forEach(p => {
  p.fc.forEach((members, s) => {
    members.forEach(row => {
      traces.push({
        x: row.map((v, i) => p.starts[s] + fcOffsets[i]), y: row,
        xaxis: p.xa, yaxis: p.ya, type: 'scatter', mode: 'lines',
        line: {color: FC_COLOR, width: 1, shape: 'spline', smoothing: 0.9},
        hoverinfo: 'skip', showlegend: false
      });
    });
  });
  p.starts.slice(1).forEach(s => {
    shapes.push({type:'line', xref:p.xa, yref:p.ya + ' domain', x0:s, x1:s, y0:0, y1:1,
      line:{color:'#b4b4b4', width:1.5}, layer:'below'});
  });
});
panels.forEach(p => {
  traces.push({
    x: p.control.map(d => d[0]), y: p.control.map(d => d[1]),
    xaxis: p.xa, yaxis: p.ya, type: 'scatter', mode: 'lines',
    line: {color: '#000', width: 2.8}, hoverinfo: 'skip', showlegend: false
  });
});

const FONT = 'DejaVu Sans, Verdana, sans-serif';
const axBase = {
  showline: true, linecolor: '#000', linewidth: 1.5, mirror: 'ticks',
  ticks: 'outside', ticklen: 8, tickwidth: 1.5, tickcolor: '#000',
  showgrid: false, automargin: false,
  tickfont: {family: FONT, size: 15, color: '#000'},
  minor: {ticks: 'outside', ticklen: 5, tickwidth: 1.2, tickcolor: '#000', dtick: 1, showgrid: false}
};
function xAx(p, anchor) {
  return Object.assign({}, axBase, {anchor: anchor, domain: [0, 1], range: p.xr,
    dtick: 5, tick0: 0, tickformat: p.fmt, zeroline: false, ticklabelstandoff: -5});
}
function yAx(dom, anchor) {
  return Object.assign({}, axBase, {anchor: anchor, domain: dom, range: [-4.45, 6],
    dtick: 2, tick0: 0, zeroline: true, zerolinecolor: '#a8a8a8', zerolinewidth: 1.5,
    ticklabelstandoff: 5});
}

const titleFont = {family: FONT, size: 20, color: '#000'};
const annFont = {family: FONT, size: 18, color: '#000'};
const layout = {
  width: 869, height: 736,
  margin: {l: 49, r: 7, t: 111, b: 30, pad: 0},
  paper_bgcolor: '#fff', plot_bgcolor: '#fff',
  showlegend: false,
  title: {text: '3mo triangle-smoothed NINO3 SST anomalies (°C)', font: titleFont,
    xref: 'container', x: 0.5224, xanchor: 'center', yref: 'container', y: 1 - 19/736, yanchor: 'middle'},
  xaxis: xAx(panels[0], 'y'), yaxis: yAx([0.766, 1], 'x'),
  xaxis2: xAx(panels[1], 'y2'), yaxis2: yAx([0.383, 0.617], 'x2'),
  xaxis3: xAx(panels[2], 'y3'), yaxis3: yAx([0, 0.234], 'x3'),
  shapes: shapes,
  annotations: [
    {text: '<b>control</b>, <span style="color:' + FC_COLOR + '">forecasts 1:40</span>', xref: 'paper', yref: 'paper',
      x: 0.4982, y: (706 - 44) / 595, xanchor: 'center', yanchor: 'middle', showarrow: false,
      font: {family: FONT, size: 19, color: '#000'}},
    {text: '<b>' + panelLabels[0] + '</b>', xref: 'paper', yref: 'paper', x: 0, y: (706 - 86) / 595,
      xanchor: 'left', yanchor: 'middle', showarrow: false, font: annFont},
    {text: '<b>' + panelLabels[1] + '</b>', xref: 'paper', yref: 'paper', x: 0, y: (706 - 313) / 595,
      xanchor: 'left', yanchor: 'middle', showarrow: false, font: annFont},
    {text: '<b>' + panelLabels[2] + '</b>', xref: 'paper', yref: 'paper', x: 0, y: (706 - 541) / 595,
      xanchor: 'left', yanchor: 'middle', showarrow: false, font: annFont}
  ]
};

Plotly.newPlot('chart', traces, layout, {staticPlot: true, displayModeBar: false});
</script>
</body>
</html>
